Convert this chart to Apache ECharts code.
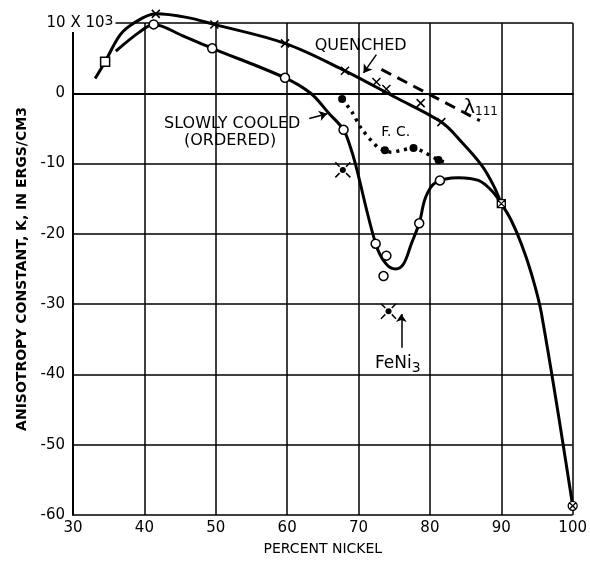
<!doctype html>
<html lang="en">
<head>
<meta charset="utf-8">
<title>Anisotropy constant vs percent nickel</title>
<script src="https://cdn.jsdelivr.net/npm/echarts@6/dist/echarts.min.js"></script>
<style>
  html, body { margin: 0; padding: 0; background: #fff; }
  #main { width: 590px; height: 561px; }
</style>
</head>
<body>
<div id="main"></div>
<script>
// values (x = percent nickel, y = K in 10^3 ergs/cm3)
var quenchedCurve = [[33.1, 2.1], [34.5, 4.5], [36.6, 8.3], [38.4, 9.9], [41.6, 11.3], [45.9, 10.8],
  [49.8, 9.8], [59.7, 7.1], [68.1, 3.2], [75.0, -0.5], [81.6, -4.1], [84.4, -6.9], [87.2, -10.2],
  [88.9, -13.1], [90.0, -15.7]];
var quenchedPoints = [[41.6, 11.3], [49.8, 9.8], [59.7, 7.1], [68.1, 3.2], [72.5, 1.6], [73.9, 0.6], [78.7, -1.4], [81.6, -4.1]];

var slowCurve = [[36.0, 6.0], [39.3, 8.7], [41.3, 9.8], [45.3, 8.2], [49.5, 6.4], [59.7, 2.2], [63.3, 0.0],
  [65.8, -2.8], [67.9, -5.2], [68.9, -7.8], [69.6, -10.2], [72.4, -21.4], [73.8, -24.2], [75.2, -25.0],
  [76.3, -24.3], [77.4, -21.4], [78.5, -18.5], [79.4, -14.8], [80.8, -12.7], [84.0, -12.0], [86.8, -12.4],
  [88.6, -13.8], [90.0, -15.7], [91.4, -18.1], [92.8, -21.4], [94.2, -25.6], [95.6, -31.2],
  [100.0, -58.7]];
var slowPoints = [[41.3, 9.8], [49.5, 6.4], [59.7, 2.2], [67.9, -5.2], [72.4, -21.4], [73.9, -23.1],
  [73.5, -26.0], [78.5, -18.5], [81.4, -12.4]];

var fcCurve = [[67.7, -0.8], [69.1, -2.7], [70.4, -5.0], [72.8, -7.8], [73.7, -8.1], [74.6, -8.4],
  [76.0, -8.1], [77.7, -7.8], [79.4, -8.5], [81.2, -9.5], [82.3, -9.8]];
var fcPoints = [[67.7, -0.8], [73.7, -8.1], [77.7, -7.8], [81.2, -9.5]];

var lambda111 = [[73.2, 3.4], [87.0, -3.9]];

var squarePoints = [[34.5, 4.5]];
var crossedSquare = [[90.0, -15.7]];
var crossedCircle = [[100.0, -58.7]];
var orderedPoints = [[67.8, -10.9], [74.2, -31.0]];

var xTicks = [30, 40, 50, 60, 70, 80, 90, 100];
var yTicks = [-60, -50, -40, -30, -20, -10, 0, 10];

var FONT = 'DejaVu Sans';
var chart = echarts.init(document.getElementById('main'));

var xMark = 'path://M0,0L10,10M10,0L0,10';
var brokenX = 'path://M0,0L4,4M10,10L14,14M14,0L10,4M4,10L0,14';
var boxX = 'path://M0,0H10V10H0ZM0,0L10,10M10,0L0,10';
var circleX = 'path://M0,5A5,5 0 1,1 10,5A5,5 0 1,1 0,5ZM1.5,1.5L8.5,8.5M8.5,1.5L1.5,8.5';

function curve(data, type, width, smooth) {
  return {
    type: 'line', data: data, showSymbol: false, smooth: smooth == null ? 0.35 : smooth, z: 3, clip: false,
    lineStyle: { color: '#000', width: width || 3, type: type || 'solid' },
    silent: true, animation: false
  };
}
function marks(data, symbol, size, fill, bw) {
  return {
    type: 'scatter', data: data, symbol: symbol, symbolSize: size, z: 5, clip: false,
    itemStyle: { color: fill, borderColor: '#000', borderWidth: bw, opacity: 1 },
    silent: true, animation: false
  };
}
function note(x, y, text, opt) {
  opt = opt || {};
  return {
    value: [x, y],
    label: {
      show: true, position: 'inside', formatter: text,
      fontFamily: FONT, fontSize: opt.size || 16, fontWeight: opt.weight || 'normal',
      color: '#000', opacity: 1, lineHeight: opt.lh || 18, offset: opt.offset || [0, 0],
      backgroundColor: opt.bg || 'transparent', padding: opt.pad || 0,
      rich: opt.rich
    }
  };
}

var option = {
  animation: false,
  backgroundColor: '#fff',
  grid: { left: 73, right: 15, top: 23, bottom: 38 },
  xAxis: {
    type: 'value', min: xTicks[0], max: xTicks[xTicks.length - 1], interval: 10,
    name: 'PERCENT NICKEL', nameLocation: 'middle', nameGap: 27,
    nameTextStyle: { fontFamily: FONT, fontSize: 14, color: '#000' },
    axisLine: { show: true, lineStyle: { color: '#000', width: 2 } },
    axisTick: { show: false },
    axisLabel: { fontFamily: FONT, fontSize: 15, color: '#000', margin: 6 },
    splitLine: { show: true, lineStyle: { color: '#000', width: 1.5 } }
  },
  yAxis: {
    type: 'value', min: yTicks[0], max: yTicks[yTicks.length - 1], interval: 10,
    name: 'ANISOTROPY CONSTANT, K, IN ERGS/CM3', nameLocation: 'middle', nameGap: 43,
    nameRotate: 90,
    nameTextStyle: { fontFamily: FONT, fontSize: 14, fontWeight: 'bold', color: '#000' },
    axisLine: { show: true, lineStyle: { color: '#000', width: 2 } },
    axisTick: { show: false },
    axisLabel: {
      fontFamily: FONT, fontSize: 15, color: '#000', margin: 8,
      formatter: function (v) { return v === 10 ? '' : String(v); }
    },
    splitLine: { show: true, lineStyle: { color: '#000', width: 1.5 } }
  },
  series: [
    curve(quenchedCurve),
    curve(slowCurve),
    curve(fcCurve, [3, 5], 3.5, 0.3),
    curve(lambda111, [11, 7], 3, 0),
    marks(quenchedPoints, xMark, 8, 'none', 1.5),
    marks(slowPoints, 'circle', 9, '#fff', 1.5),
    marks(squarePoints, 'rect', 9, '#fff', 1.5),
    marks(fcPoints, 'circle', 8, '#000', 0),
    marks(crossedSquare, boxX, 8, '#fff', 1.3),
    marks(crossedCircle, circleX, 9, '#fff', 1.3),
    marks(orderedPoints, brokenX, 15, 'none', 1.5),
    marks(orderedPoints, 'circle', 6, '#000', 0),
    {
      type: 'lines', coordinateSystem: 'cartesian2d', z: 6, silent: true, animation: false,
      symbol: ['none', 'arrow'], symbolSize: 8,
      lineStyle: { color: '#000', width: 1.5, opacity: 1 },
      data: [
        { coords: [[72.5, 5.5], [70.7, 2.9]] },
        { coords: [[63.1, -3.6], [65.6, -2.9]] },
        { coords: [[76.0, -36.2], [76.0, -31.4]] }
      ]
    },
    {
      type: 'scatter', symbolSize: 0, z: 7, silent: true, animation: false, clip: false,
      itemStyle: { opacity: 1 },
      data: [
        note(30, 10, '10 X 10{s|3}', { size: 15, offset: [7, 0], bg: '#fff', pad: [0, 2, 0, 2],
          rich: { s: { fontFamily: FONT, fontSize: 14, color: '#000', verticalAlign: 'top', padding: [0, 0, 6, 0] } } }),
        note(70.3, 6.8, 'QUENCHED'),
        note(87.1, -2.0, '{l|λ}{s|111}', {
          rich: { l: { fontFamily: FONT, fontSize: 20, color: '#000' },
                  s: { fontFamily: FONT, fontSize: 12, color: '#000', padding: [10, 0, 0, 0] } } }),
        note(75.2, -5.6, 'F. C.', { size: 14 }),
        note(52.3, -4.3, 'SLOWLY COOLED'),
        note(52.0, -6.8, '(ORDERED)'),
        note(75.5, -38.5, 'FeNi{s|3}', { size: 17,
          rich: { s: { fontFamily: FONT, fontSize: 14, color: '#000', padding: [8, 0, 0, 0] } } })
      ]
    }
  ]
};
chart.setOption(option);
</script>
</body>
</html>
